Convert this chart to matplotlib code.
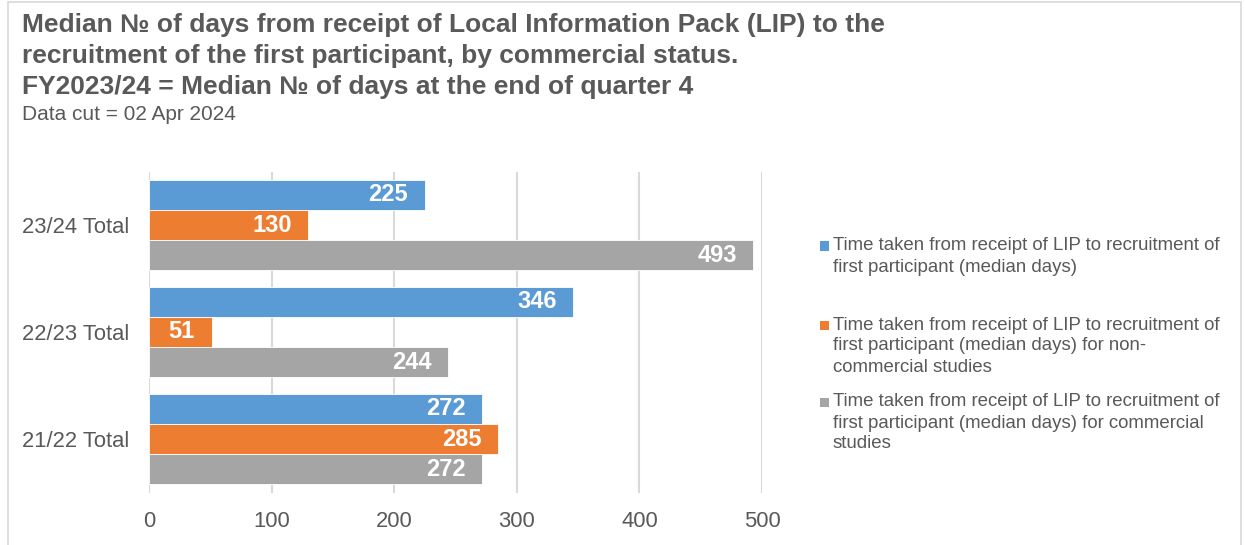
import matplotlib
matplotlib.use("Agg")
import matplotlib.pyplot as plt
from matplotlib.patches import Rectangle
import numpy as np

plt.rcParams['font.family'] = ['Liberation Sans', 'DejaVu Sans']

categories = ['21/22 Total', '22/23 Total', '23/24 Total']
series_names = [
    "Time taken from receipt of LIP to recruitment of\nfirst participant (median days)",
    "Time taken from receipt of LIP to recruitment of\nfirst participant (median days) for non-\ncommercial studies",
    "Time taken from receipt of LIP to recruitment of\nfirst participant (median days) for commercial\nstudies",
]
all_studies = [272, 346, 225]
non_commercial = [285, 51, 130]
commercial = [272, 244, 493]
x_ticks = [0, 100, 200, 300, 400, 500]

title_lines = [
    "Median \u2116 of days from receipt of Local Information Pack (LIP) to the",
    "recruitment of the first participant, by commercial status.",
    "FY2023/24 = Median \u2116 of days at the end of quarter 4",
]
subtitle = "Data cut = 02 Apr 2024"

colors = ['#5B9BD5', '#ED7D31', '#A5A5A5']
text_col = '#595959'
W, H = 1245, 545
fig = plt.figure(figsize=(W / 100, H / 100), dpi=100)

def fx(px):
    return px / W

def fy(py):
    return 1 - py / H

ax = fig.add_axes([fx(149), fy(492.5), fx(762) - fx(149), (492.5 - 171.5) / H])

y = np.arange(len(categories))
h = 0.283
series = [all_studies, non_commercial, commercial]
offsets = [h, 0, -h]
for vals, off, c in zip(series, offsets, colors):
    bars = ax.barh(y + off, vals, height=h, color=c, edgecolor='white',
                   linewidth=0.6, zorder=3)
    for b, v in zip(bars, vals):
        ax.annotate(str(v), (v, b.get_y() + b.get_height() / 2), xytext=(-12, 0),
                    textcoords='offset points', ha='right', va='center',
                    color='white', fontsize=17, fontweight='bold', zorder=4)

ax.set_xlim(0, 500)
ax.set_ylim(-0.5, 2.5)
ax.set_xticks(x_ticks)
ax.set_yticks(y)
ax.set_yticklabels(categories)
ax.tick_params(axis='both', length=0, labelsize=15.8, labelcolor=text_col)
ax.tick_params(axis='x', pad=13)
ax.tick_params(axis='y', pad=14)
ax.grid(axis='x', color='#D9D9D9', linewidth=1.5, zorder=0)
for s in ax.spines.values():
    s.set_visible(False)

# Title
baselines = [32, 63, 94]
for line, b in zip(title_lines, baselines):
    fig.text(fx(22), fy(b), line, fontsize=19, fontweight='bold', color=text_col,
             ha='left', va='baseline')
fig.text(fx(22), fy(120), subtitle, fontsize=15, color=text_col, ha='left', va='baseline')

# Legend (manual)
first_line_centers = [246, 325, 402]
for name, c, yc in zip(series_names, colors, first_line_centers):
    fig.patches.append(Rectangle((fx(820), fy(yc + 4.5)), fx(9), 9 / H,
                                 transform=fig.transFigure, facecolor=c, edgecolor='none'))
    for i, ln in enumerate(name.split("\n")):
        fig.text(fx(833), fy(yc + 21 * i), ln, fontsize=13.4, color=text_col,
                 ha='left', va='center')

# Border
fig.patches.append(Rectangle((fx(8), fy(560)), fx(1241) - fx(8), (560 - 2) / H,
                             transform=fig.transFigure, facecolor='none',
                             edgecolor='#D9D9D9', linewidth=1.2))

fig.savefig('out.png', dpi=100)
